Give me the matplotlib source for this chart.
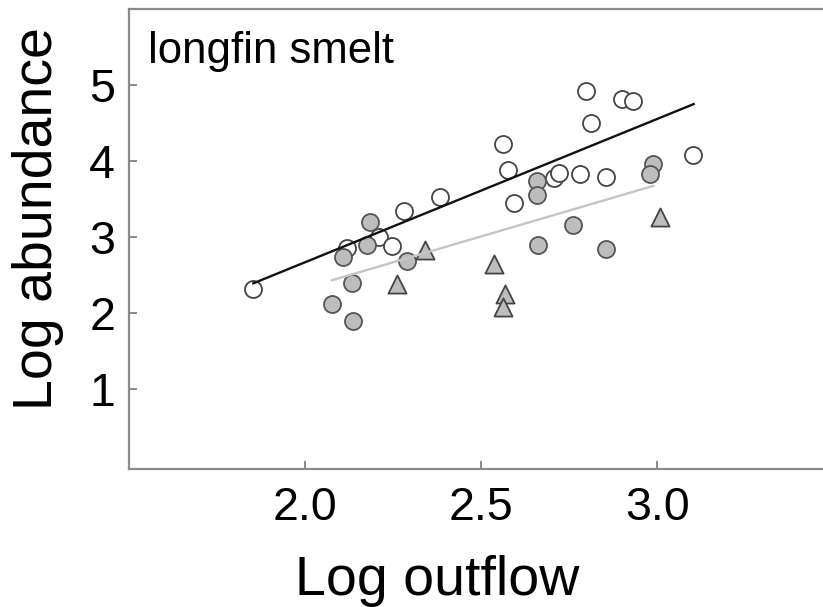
"""Longfin smelt: log abundance vs log outflow (scatter + two fitted lines)."""

import matplotlib

matplotlib.use("Agg")
import matplotlib.pyplot as plt  # noqa: E402

plt.rcParams["font.family"] = ["Liberation Sans", "DejaVu Sans"]

# open circles
open_x = [1.853, 2.118, 2.211, 2.248, 2.281, 2.384, 2.562, 2.576, 2.592,
          2.797, 2.900, 2.931, 2.812, 2.707, 2.722, 2.781, 2.855, 3.100]
open_y = [2.32, 2.85, 3.00, 2.88, 3.34, 3.53, 4.22, 3.88, 3.45,
          4.92, 4.81, 4.79, 4.49, 3.78, 3.835, 3.83, 3.79, 4.08]

# grey filled circles
grey_x = [2.183, 2.177, 2.107, 2.134, 2.076, 2.137, 2.289,
          2.658, 2.658, 2.988, 2.978, 2.759, 2.660, 2.855]
grey_y = [3.19, 2.90, 2.74, 2.39, 2.12, 1.89, 2.68,
          3.74, 3.55, 3.96, 3.83, 3.15, 2.90, 2.84]

# grey triangles
tri_x = [2.341, 2.260, 2.535, 2.568, 2.562, 3.006]
tri_y = [2.83, 2.38, 2.65, 2.25, 2.075, 3.26]

# fitted lines (end points)
fit_black_x = [1.853, 3.103]
fit_black_y = [2.39, 4.745]
fit_grey_x = [2.076, 2.988]
fit_grey_y = [2.43, 3.67]

x_ticks = [2.0, 2.5, 3.0]
x_tick_labels = ["2.0", "2.5", "3.0"]
y_ticks = [1, 2, 3, 4, 5]

fig = plt.figure(figsize=(8.23, 6.07), dpi=100)
ax = fig.add_axes([0.1567, 0.2273, 0.8433, 0.7586])

ax.scatter(open_x, open_y, s=150, marker="o", facecolor="white", edgecolor="#444444", linewidth=1.3, zorder=2)
ax.scatter(grey_x, grey_y, s=150, marker="o", facecolor="#bdbdbd", edgecolor="#555555", linewidth=1.3, zorder=2)
ax.scatter(tri_x, tri_y, s=170, marker="^", facecolor="#bdbdbd", edgecolor="#444444", linewidth=1.3, zorder=2)
ax.plot(fit_black_x, fit_black_y, color="#111111", lw=1.7, zorder=3)
ax.plot(fit_grey_x, fit_grey_y, color="#c4c4c4", lw=1.7, zorder=3)

ax.set_xlim(1.5, 3.47)
ax.set_ylim(-0.05, 6.0)
ax.set_xticks(x_ticks)
ax.set_xticklabels(x_tick_labels)
ax.set_yticks(y_ticks)

for side in ("left", "bottom", "top"):
    ax.spines[side].set_color("#8a8a8a")
    ax.spines[side].set_linewidth(1.6)
ax.spines["right"].set_visible(False)
ax.tick_params(axis="both", direction="in", length=6, width=1.4, color="#8a8a8a", labelsize=33.5)
ax.tick_params(axis="x", pad=12)
ax.tick_params(axis="y", pad=10)

ax.set_xlabel("Log outflow", fontsize=40)
ax.xaxis.set_label_coords(0.4445, -0.187)
ax.set_ylabel("Log abundance", fontsize=40)
ax.yaxis.set_label_coords(-0.094, 0.545)

ax.text(0.027, 0.882, "longfin smelt", transform=ax.transAxes, fontsize=31.5, va="baseline", ha="left")

fig.savefig("out.png", dpi=100)
